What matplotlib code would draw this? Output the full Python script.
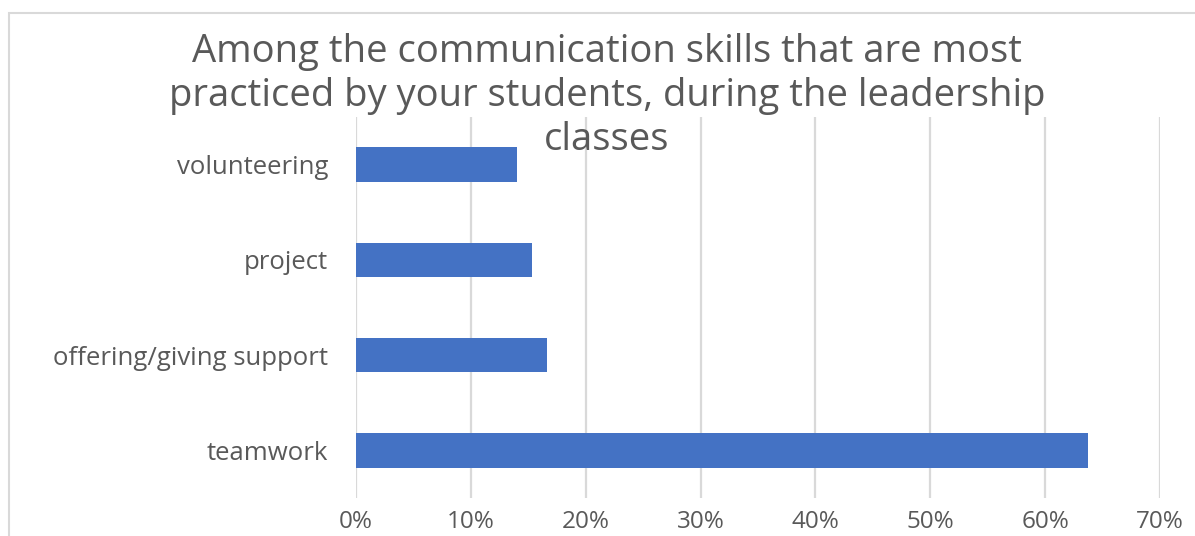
import matplotlib.pyplot as plt
from matplotlib.patches import Rectangle
from matplotlib.ticker import FuncFormatter

# data (share of answers, %)
categories = ['teamwork', 'offering/giving support', 'project', 'volunteering']
values = [63.7, 16.6, 15.3, 14.0]
xticks = [0, 10, 20, 30, 40, 50, 60, 70]

plt.rcParams['font.family'] = ['Open Sans', 'DejaVu Sans']
grey = '#595959'

fig = plt.figure(figsize=(11.95, 5.36), dpi=100)
ax = fig.add_axes([0.2979, 0.0709, 0.6728, 0.7108])

# chart frame
fig.patches.append(Rectangle((9 / 1195, -0.1), 1.2, 1 - 13 / 536 + 0.1,
                             transform=fig.transFigure, fill=False,
                             edgecolor='#d9d9d9', linewidth=1.5))

ax.barh(range(len(categories)), values, height=0.36, color='#4472c4', zorder=3)

ax.set_xlim(0, 70)
ax.set_ylim(-0.5, len(categories) - 0.5)
ax.set_xticks(xticks)
ax.xaxis.set_major_formatter(FuncFormatter(lambda v, p: f'{v:.0f}%'))
ax.set_yticks(range(len(categories)))
ax.set_yticklabels(categories)
ax.grid(axis='x', color='#d9d9d9', linewidth=1.6, zorder=0)
ax.tick_params(length=0, labelsize=17.5, colors=grey)
ax.tick_params(axis='y', labelsize=18.5, pad=20)
ax.tick_params(axis='x', pad=9)
for s in ax.spines.values():
    s.set_visible(False)

fig.text(607 / 1195, 1 - 96 / 536,
         'Among the communication skills that are most\n'
         'practiced by your students, during the leadership\n'
         'classes',
         ha='center', va='center', fontsize=27.5, color=grey, linespacing=1.2)

fig.savefig('out.png', dpi=100)
